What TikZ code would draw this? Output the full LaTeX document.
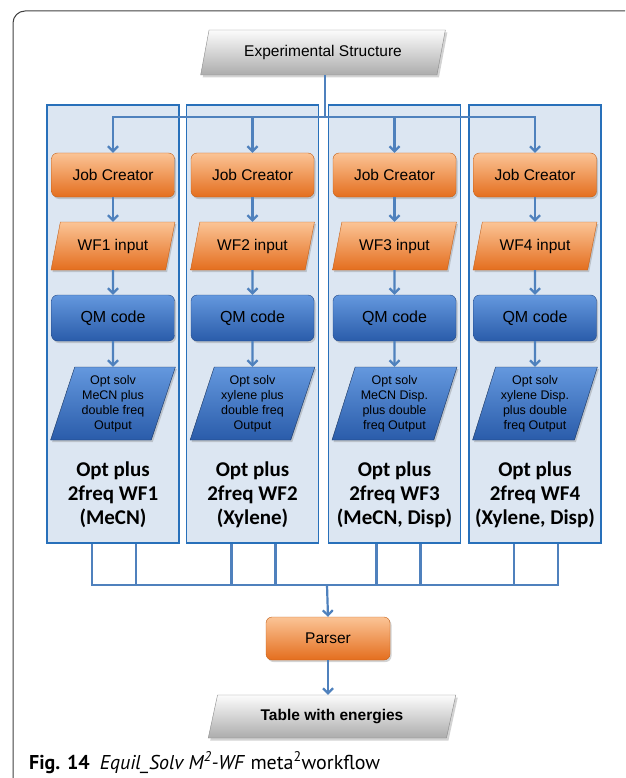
\documentclass[tikz,border=0pt]{standalone}
\usepackage{fontspec}
\setmainfont{Liberation Sans}
\newfontfamily\labfont{Carlito}
\newfontfamily\capfont{PT Sans}
\usetikzlibrary{shapes.geometric,shadows,arrows.meta}
\definecolor{panelfill}{RGB}{220,230,242}
\definecolor{panelline}{RGB}{40,112,186}
\definecolor{connblue}{RGB}{79,129,189}
\definecolor{orangetop}{RGB}{251,196,150}
\definecolor{orangebot}{RGB}{228,110,30}
\definecolor{orangeline}{RGB}{196,96,24}
\definecolor{bluetop}{RGB}{100,152,222}
\definecolor{bluebot}{RGB}{42,92,170}
\definecolor{blueline}{RGB}{36,74,136}
\definecolor{greytop}{RGB}{252,252,252}
\definecolor{greybot}{RGB}{172,172,172}
\tikzset{
  >={Straight Barb[length=5pt,width=10pt]},
  panel/.style={draw=panelline,line width=1.8pt,fill=panelfill,minimum width=132pt,minimum height=438pt},
  conn/.style={draw=connblue,line width=2.2pt},
  jobbox/.style={rounded corners=6pt,draw=orangeline,top color=orangetop,bottom color=orangebot,
    minimum width=123pt,minimum height=44pt,font=\fontsize{15.5}{18}\selectfont,
    drop shadow={opacity=0.35,shadow xshift=1.5pt,shadow yshift=-2pt}},
  inbox/.style={trapezium,trapezium left angle=72,trapezium right angle=108,trapezium stretches=true,
    draw=orangeline,top color=orangetop,bottom color=orangebot,minimum width=125pt,minimum height=48pt,
    font=\fontsize{15.5}{18}\selectfont,drop shadow={opacity=0.35,shadow xshift=1.5pt,shadow yshift=-2pt}},
  qmbox/.style={rounded corners=6pt,draw=blueline,top color=bluetop,bottom color=bluebot,
    minimum width=123pt,minimum height=46pt,font=\fontsize{16}{19}\selectfont,
    drop shadow={opacity=0.35,shadow xshift=1.5pt,shadow yshift=-2pt}},
  outbox/.style={trapezium,trapezium left angle=71,trapezium right angle=109,trapezium stretches=true,
    draw=blueline!70!black,top color=bluetop,bottom color=bluebot,minimum width=125pt,minimum height=73pt,
    align=center,font=\fontsize{12.5}{15}\selectfont,
    drop shadow={opacity=0.35,shadow xshift=1.5pt,shadow yshift=-2pt}},
  greybox/.style={trapezium,trapezium left angle=74,trapezium right angle=106,trapezium stretches=true,
    draw=greybot!80!black,top color=greytop,bottom color=greybot,
    drop shadow={opacity=0.35,shadow xshift=2pt,shadow yshift=-2.5pt}},
  labtext/.style={align=center,font=\labfont\bfseries\fontsize{21}{24}\selectfont}
}
\begin{document}
\begin{tikzpicture}[x=1pt,y=-1pt]
\useasboundingbox (0,0) rectangle (625,778);
\draw[black!75,line width=1pt,rounded corners=12pt] (625,11) -- (13,11) -- (13,778);

% top input
\node[greybox,minimum width=245pt,minimum height=45pt,font=\fontsize{15.5}{18}\selectfont] (es) at (323,52.5) {Experimental Structure};

% the four panels
\node[panel] (p1) at (113,324) {};
\node[panel] (p2) at (252.5,324) {};
\node[panel] (p3) at (394.5,324) {};
\node[panel] (p4) at (535,324) {};

\node[jobbox] (jc1) at (113,175) {Job Creator};
\node[jobbox] (jc2) at (252.5,175) {Job Creator};
\node[jobbox] (jc3) at (394.5,175) {Job Creator};
\node[jobbox] (jc4) at (535,175) {Job Creator};

\node[inbox] (wf1) at (113,246) {WF1 input};
\node[inbox] (wf2) at (252.5,246) {WF2 input};
\node[inbox] (wf3) at (394.5,246) {WF3 input};
\node[inbox] (wf4) at (535,246) {WF4 input};

\node[qmbox] (qm1) at (113,318) {QM code};
\node[qmbox] (qm2) at (252.5,318) {QM code};
\node[qmbox] (qm3) at (394.5,318) {QM code};
\node[qmbox] (qm4) at (535,318) {QM code};

\node[outbox] (out1) at (113,403.5) {Opt solv\\MeCN plus\\double freq\\Output};
\node[outbox] (out2) at (252.5,403.5) {Opt solv\\xylene plus\\double freq\\Output};
\node[outbox] (out3) at (394.5,403.5) {Opt solv\\MeCN Disp.\\plus double\\freq Output};
\node[outbox] (out4) at (535,403.5) {Opt solv\\xylene Disp.\\plus double\\freq Output};

\node[labtext] (lab1) at (113,495) {Opt plus\\2freq WF1\\(MeCN)};
\node[labtext] (lab2) at (252.5,495) {Opt plus\\2freq WF2\\(Xylene)};
\node[labtext] (lab3) at (394.5,495) {Opt plus\\2freq WF3\\(MeCN, Disp)};
\node[labtext] (lab4) at (535,495) {Opt plus\\2freq WF4\\(Xylene, Disp)};

% fan out
\coordinate (split) at (325,117);
\draw[conn] (es.south -| split) -- (split);
\draw[conn,->] (split) -| (jc1.north);
\draw[conn,->] (split) -| (jc2.north);
\draw[conn,->] (split) -| (jc3.north);
\draw[conn,->] (split) -| (jc4.north);

% inside the panels
\draw[conn,->] (jc1) -- (wf1);
\draw[conn,->] (jc2) -- (wf2);
\draw[conn,->] (jc3) -- (wf3);
\draw[conn,->] (jc4) -- (wf4);
\draw[conn,->] (wf1) -- (qm1);
\draw[conn,->] (wf2) -- (qm2);
\draw[conn,->] (wf3) -- (qm3);
\draw[conn,->] (wf4) -- (qm4);
\draw[conn,->] (qm1) -- (out1);
\draw[conn,->] (qm2) -- (out2);
\draw[conn,->] (qm3) -- (out3);
\draw[conn,->] (qm4) -- (out4);

% collect
\coordinate (join) at (327,585);
\draw[conn] ([xshift=-21pt]p1.south) |- (join);
\draw[conn] ([xshift=23pt]p1.south) |- (join);
\draw[conn] ([xshift=-21pt]p2.south) |- (join);
\draw[conn] ([xshift=23pt]p2.south) |- (join);
\draw[conn] ([xshift=-18pt]p3.south) |- (join);
\draw[conn] ([xshift=26pt]p3.south) |- (join);
\draw[conn] ([xshift=-21pt]p4.south) |- (join);
\draw[conn] ([xshift=23pt]p4.south) |- (join);

\node[jobbox,minimum width=124pt,minimum height=43pt] (parser) at (328,638.5) {Parser};
\node[greybox,minimum width=248pt,minimum height=43pt,font=\bfseries\fontsize{15.5}{18}\selectfont] (table) at (332,716.5) {Table with energies};
\draw[conn,->] (join) -- (parser.north);
\draw[conn,->] (parser) -- (table.north -| parser);

\node[anchor=base west,inner sep=0pt,font=\capfont\fontsize{20}{24}\selectfont] (cap) at (29,769)
  {{\bfseries Fig. 14}\hspace{0.5em}\textit{Equil\_Solv M\textsuperscript{2}-WF} meta\textsuperscript{2}workflow};
\end{tikzpicture}
\end{document}
